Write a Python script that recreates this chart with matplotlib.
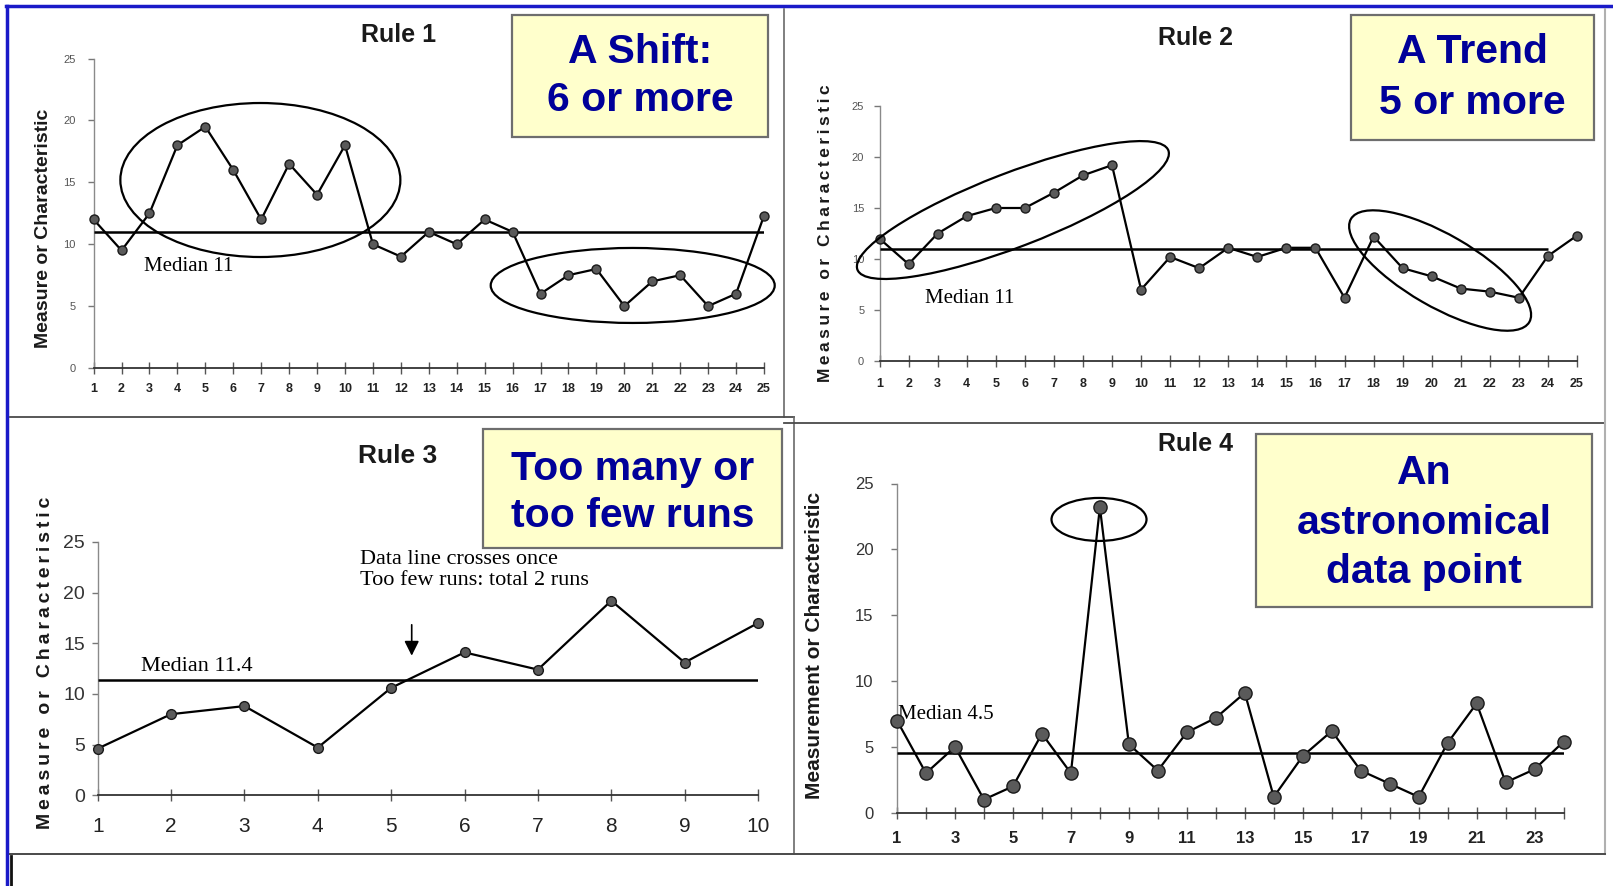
import matplotlib
matplotlib.use("Agg")
import matplotlib.pyplot as plt
from matplotlib.patches import Ellipse, Rectangle
from matplotlib.transforms import ScaledTranslation
from matplotlib.lines import Line2D

# ---------------- data ----------------
rule1_x = list(range(1, 26))
rule1_y = [12, 9.5, 12.5, 18, 19.5, 16, 12, 16.5, 14, 18, 10, 9, 11, 10, 12, 11,
           6, 7.5, 8, 5, 7, 7.5, 5, 6, 12.3]
rule1_median = 11

rule2_x = list(range(1, 26))
rule2_y = [12, 9.5, 12.5, 14.2, 15, 15, 16.5, 18.2, 19.2, 7, 10.2, 9.1, 11.1, 10.2,
           11.1, 11.1, 6.2, 12.2, 9.1, 8.3, 7.1, 6.8, 6.2, 10.3, 12.3]
rule2_median = 11

rule3_x = list(range(1, 11))
rule3_y = [4.6, 8.0, 8.8, 4.7, 10.6, 14.1, 12.4, 19.2, 13.1, 17.0]
rule3_median = 11.4

rule4_x = list(range(1, 25))
rule4_y = [7, 3, 5, 1, 2, 6, 3, 23.2, 5.2, 3.2, 6.1, 7.2, 9.1, 1.2, 4.3, 6.2,
           3.2, 2.2, 1.2, 5.3, 8.3, 2.3, 3.3, 5.4]
rule4_median = 4.5

yticks = [0, 5, 10, 15, 20, 25]
rule4_xticklabels = [str(v) if v % 2 == 1 else "" for v in rule4_x]

titles = ["Rule 1", "Rule 2", "Rule 3", "Rule 4"]
box_texts = ["A Shift:\n6 or more", "A Trend\n5 or more",
             "Too many or\ntoo few runs", "An\nastronomical\ndata point"]

# ---------------- figure ----------------
W, H, DPI = 1613, 886, 100
fig = plt.figure(figsize=(W / DPI, H / DPI), dpi=DPI)
fig.patch.set_facecolor("white")
SANS = ["Liberation Sans", "DejaVu Sans"]
SERIF = ["Liberation Serif", "DejaVu Serif"]


def fx(px):
    return px / W


def fy(py):
    return 1 - py / H


def make_axes(x_first, x_last, y0, y25, xmax):
    ax = fig.add_axes([fx(x_first), fy(y0), (x_last - x_first) / W, (y0 - y25) / H])
    ax.set_xlim(1, xmax)
    ax.set_ylim(0, 25)
    ax.patch.set_alpha(0)
    for s in ("top", "right"):
        ax.spines[s].set_visible(False)
    ax.spines["left"].set_color("#8a8a8a")
    ax.spines["left"].set_linewidth(1.0)
    ax.spines["bottom"].set_color("#333333")
    ax.spines["bottom"].set_linewidth(1.3)
    ax.set_yticks(yticks)
    ax.tick_params(axis="x", direction="inout", length=8, color="#555555", width=1)
    ax.tick_params(axis="y", direction="out", length=4, color="#777777", width=1)
    return ax


def ellipse(ax, cx, cy, w_px, h_px, angle=0, lw=1.6):
    tr = fig.dpi_scale_trans + ScaledTranslation(cx, cy, ax.transData)
    e = Ellipse((0, 0), w_px / DPI, h_px / DPI, angle=angle, fill=False,
                ec="black", lw=lw, transform=tr, clip_on=False, zorder=5)
    fig.add_artist(e)


def series(ax, x, y, ms):
    ax.plot(x, y, color="black", lw=1.6, marker="o", ms=ms,
            mfc="#5a5a5a", mec="#1a1a1a", mew=1.0, clip_on=False, zorder=4)


# ---- Rule 1 ----
ax1 = make_axes(93.6, 764, 368, 58.6, 25)
ax1.set_xticks(rule1_x)
ax1.set_xticklabels([str(v) for v in rule1_x], fontsize=9, fontweight="bold",
                    color="#222222", family=SANS)
ax1.set_yticklabels([str(v) for v in yticks], fontsize=8, color="#555555", family=SANS)
ax1.tick_params(axis="x", pad=7)
ax1.tick_params(axis="y", pad=9)
ax1.hlines(rule1_median, 1, 25, color="black", lw=1.8, zorder=3)
series(ax1, rule1_x, rule1_y, 6.5)
ax1.text(2.8, 8.2, "Median 11", family=SERIF, fontsize=15, va="center", ha="left")
ellipse(ax1, 6.97, 15.19, 280, 154)
ellipse(ax1, 20.3, 6.67, 284, 75)

# ---- Rule 2 ----
ax2 = make_axes(879.5, 1577, 361, 106, 25)
ax2.set_xticks(rule2_x)
ax2.set_xticklabels([str(v) for v in rule2_x], fontsize=9, fontweight="bold",
                    color="#222222", family=SANS)
ax2.set_yticklabels([str(v) for v in yticks], fontsize=8, color="#555555", family=SANS)
ax2.tick_params(axis="x", pad=8)
ax2.tick_params(axis="y", pad=7)
ax2.hlines(rule2_median, 1, 24, color="black", lw=1.8, zorder=3)
series(ax2, rule2_x, rule2_y, 6.5)
ax2.text(2.56, 6.15, "Median 11", family=SERIF, fontsize=15, va="center", ha="left")
ellipse(ax2, 5.59, 14.8, 333, 74, angle=21)
ellipse(ax2, 20.29, 8.87, 206, 72, angle=-30)

# ---- Rule 3 ----
ax3 = make_axes(97.7, 758, 795.2, 542, 10)
ax3.set_xticks(rule3_x)
ax3.set_xticklabels([str(v) for v in rule3_x], fontsize=15, color="#222222", family=SANS)
ax3.set_yticklabels([str(v) for v in yticks], fontsize=14, color="#333333", family=SANS)
ax3.tick_params(axis="x", pad=12)
ax3.tick_params(axis="y", pad=5)
ax3.hlines(rule3_median, 1, 10, color="black", lw=1.8, zorder=3)
series(ax3, rule3_x, rule3_y, 7)
ax3.text(1.59, 12.66, "Median 11.4", family=SERIF, fontsize=16, va="center", ha="left")
ax3.text(4.575, 23.3, "Data line crosses once", family=SERIF, fontsize=16,
         va="center", ha="left")
ax3.text(4.575, 21.15, "Too few runs: total 2 runs", family=SERIF, fontsize=16,
         va="center", ha="left")
ax3.annotate("", xy=(5.28, 13.5), xytext=(5.28, 17.1),
             arrowprops=dict(arrowstyle="-|>", color="black", lw=1.2,
                             mutation_scale=22))

# ---- Rule 4 ----
ax4 = make_axes(897, 1563.6, 812.7, 483.5, 24)
ax4.set_xticks(rule4_x)
ax4.set_xticklabels(rule4_xticklabels, fontsize=12, fontweight="bold",
                    color="#222222", family=SANS)
ax4.set_yticklabels([str(v) for v in yticks], fontsize=12, color="#333333", family=SANS)
ax4.tick_params(axis="x", pad=9)
ax4.tick_params(axis="y", pad=13)
ax4.hlines(rule4_median, 1, 24, color="black", lw=1.8, zorder=3)
series(ax4, rule4_x, rule4_y, 9.5)
ax4.text(1.03, 7.42, "Median 4.5", family=SERIF, fontsize=15, va="center", ha="left",
         zorder=2)
ellipse(ax4, 7.97, 22.27, 95, 43)

# ---- titles ----
fig.text(fx(399), fy(35), titles[0], ha="center", va="center", fontsize=18,
         fontweight="bold", color="#1a1a1a", family=SANS)
fig.text(fx(1195), fy(38), titles[1], ha="center", va="center", fontsize=18,
         fontweight="bold", color="#1a1a1a", family=SANS)
fig.text(fx(398), fy(456), titles[2], ha="center", va="center", fontsize=19,
         fontweight="bold", color="#1a1a1a", family=SANS)
fig.text(fx(1196), fy(444), titles[3], ha="center", va="center", fontsize=18,
         fontweight="bold", color="#1a1a1a", family=SANS)

# ---- y labels ----
def spaced(s):
    return "\u2009".join(s)

fig.text(fx(44), fy(228), "Measure or Characteristic", rotation=90, ha="center",
         va="center", fontsize=14, fontweight="bold", color="#1a1a1a", family=SANS)
fig.text(fx(826), fy(233), spaced("Measure or Characteristic"), rotation=90,
         ha="center", va="center", fontsize=12.5, fontweight="bold", color="#1a1a1a",
         family=SANS)
fig.text(fx(46), fy(663), spaced("Measure or Characteristic"), rotation=90,
         ha="center", va="center", fontsize=14, fontweight="bold", color="#1a1a1a",
         family=SANS)
fig.text(fx(814), fy(645), "Measurement or Characteristic", rotation=90,
         ha="center", va="center", fontsize=15, fontweight="bold", color="#1a1a1a",
         family=SANS)

# ---- yellow call-out boxes ----
boxes = [(512, 768, 15, 137, 1.36, 0), (1351, 1594, 15, 140, 1.46, 0),
         (483, 782, 429, 548, 1.28, 4), (1256, 1592, 434, 607, 1.37, 2)]
for (x0, x1, y0, y1, ls, dy), txt in zip(boxes, box_texts):
    r = Rectangle((fx(x0), fy(y1)), (x1 - x0) / W, (y1 - y0) / H,
                  transform=fig.transFigure, fc="#FFFFCC", ec="#6e6e6e", lw=1.6,
                  zorder=6)
    fig.add_artist(r)
    fig.text(fx((x0 + x1) / 2), fy((y0 + y1) / 2 + dy), txt, ha="center", va="center",
             fontsize=29.5, fontweight="bold", color="#000099", family=SANS,
             linespacing=ls, zorder=7)

# ---- frames ----
def fline(x0, y0, x1, y1, color, lw):
    fig.add_artist(Line2D([fx(x0), fx(x1)], [fy(y0), fy(y1)], transform=fig.transFigure,
                          color=color, lw=lw, zorder=8))

fline(6, 6, W, 6, "#1a1ac8", 2.5)
fline(7, 6, 7, H, "#1a1ac8", 2.5)
fline(784, 9, 784, 417, "#6a6a6a", 1.2)
fline(10, 417, 794, 417, "#4a4a4a", 1.3)
fline(794, 417, 794, 854, "#6a6a6a", 1.2)
fline(784, 423, 1605, 423, "#4a4a4a", 1.3)
fline(1605, 9, 1605, 854, "#b0b0b0", 1.5)
fline(10, 854, 1605, 854, "#4a4a4a", 1.4)
fline(11, 856, 11, H, "#111111", 2.0)

fig.savefig("out.png", dpi=DPI)
